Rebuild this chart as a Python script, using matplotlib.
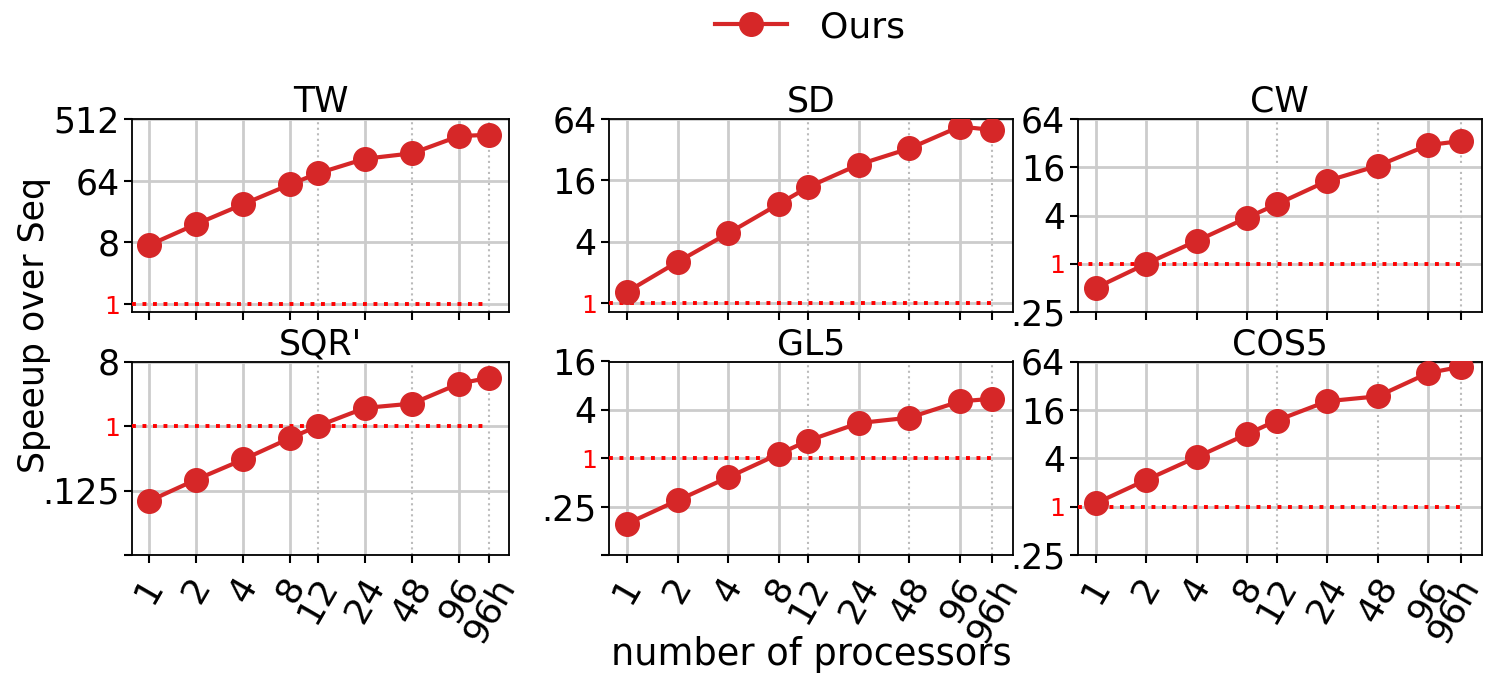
import matplotlib
matplotlib.use("Agg")
import matplotlib.pyplot as plt
import matplotlib.transforms as mtransforms
from matplotlib.ticker import NullLocator

# Processor counts (position on a log2 axis) and their labels
proc_major = [1, 2, 4, 8, 24, 96]
proc_major_labels = ["1", "2", "4", "8", "24", "96"]
proc_minor = [12, 48, 150]
proc_minor_labels = ["12", "48", "96h"]
procs = [1, 2, 4, 8, 12, 24, 48, 96, 150]

# Speedup over sequential, one series per benchmark
tw = [7.3, 14.8, 29, 56.6, 82, 134, 161, 288, 301]
sd = [1.3, 2.55, 4.86, 9.4, 13.8, 22.9, 32.9, 54, 50]
cw = [0.5, 1.0, 1.93, 3.76, 5.53, 10.8, 16.7, 30.2, 34]
sqr = [0.089, 0.178, 0.34, 0.68, 1.0, 1.79, 2.06, 3.92, 4.76]
gl5 = [0.154, 0.30, 0.58, 1.13, 1.66, 2.74, 3.2, 5.1, 5.5]
cos5 = [1.1, 2.15, 4.14, 8.0, 11.8, 20.5, 23.6, 46, 55]

titles = ["TW", "SD", "CW", "SQR'", "GL5", "COS5"]
series = [tw, sd, cw, sqr, gl5, cos5]
ytick_vals = [
    [1, 8, 64, 512],
    [1, 4, 16, 64],
    [0.25, 1, 4, 16, 64],
    [1 / 64, 1 / 8, 1, 8],
    [1 / 16, 0.25, 1, 4, 16],
    [0.25, 1, 4, 16, 64],
]
ytick_labels = [
    ["1", "8", "64", "512"],
    ["1", "4", "16", "64"],
    [".25", "1", "4", "16", "64"],
    ["", ".125", "1", "8"],
    ["", ".25", "1", "4", "16"],
    [".25", "1", "4", "16", "64"],
]
ylims = [(0.764, 512), (0.82, 64), (0.25, 64), (1 / 64, 8), (1 / 16, 16), (0.25, 64)]

W, H = 1489, 675
fig = plt.figure(figsize=(W / 100, H / 100), dpi=100)

# Axes boxes in pixels: (left, right) per column, (top, bottom) per row
col_px = [(132.3, 509.0), (609.3, 1013.3), (1077.7, 1481.7)]
row_px = [(119.0, 312.0), (361.5, 555.0)]

line_color = "#d62728"
grid_color = "#cccccc"
nudge_left = mtransforms.ScaledTranslation(-7 / 100, 0, fig.dpi_scale_trans)

axes = []
for i in range(6):
    r, c = divmod(i, 3)
    x0, x1 = col_px[c]
    y0, y1 = row_px[r]
    ax = fig.add_axes([x0 / W, 1 - y1 / H, (x1 - x0) / W, (y1 - y0) / H])
    axes.append(ax)

    ax.set_xscale("log", base=2)
    ax.set_yscale("log", base=2)
    ax.set_xlim(0.78, 200)
    ax.set_ylim(*ylims[i])

    ax.set_axisbelow(True)
    ax.set_xticks(proc_major)
    ax.set_xticks(proc_minor, minor=True)
    ax.set_yticks(ytick_vals[i])
    ax.yaxis.set_minor_locator(NullLocator())

    ax.grid(True, which="major", axis="both", color=grid_color, lw=2)
    ax.grid(True, which="minor", axis="x", color="#bbbbbb", lw=1.5, ls=":")
    ax.tick_params(which="both", length=6, width=1.5, color="black")
    ax.tick_params(axis="y", pad=3)
    ax.tick_params(axis="x", which="both", pad=6)
    for sp in ax.spines.values():
        sp.set_linewidth(1.3)
        sp.set_color("black")

    if r == 1:
        ax.set_xticklabels(proc_major_labels, rotation=60, fontsize=26)
        ax.set_xticklabels(proc_minor_labels, minor=True, rotation=60, fontsize=26)
        if c == 2:
            last = ax.xaxis.get_minor_ticks()[-1].label1
            last.set_transform(last.get_transform() + nudge_left)
    else:
        ax.set_xticklabels([])
        ax.set_xticklabels([], minor=True)

    ax.set_yticklabels(ytick_labels[i], fontsize=25)
    for lab in ax.get_yticklabels():
        if lab.get_text() == "1":
            lab.set_color("red")
            lab.set_fontsize(18)

    ref = ax.hlines(1, 0.78, procs[-1], colors="red", lw=2.8, zorder=3)
    ref.set_linestyle((0, (1.0, 1.7)))

    ax.plot(procs, series[i], color=line_color, lw=3, marker="o",
            markersize=17, zorder=4, label="Ours" if i == 0 else None)
    ax.set_title(titles[i], fontsize=25, pad=4)

# Shared axis labels
fig.text(811 / W, 1 - 665 / H, "number of processors", fontsize=26.5,
         ha="center", va="baseline")
fig.text(34 / W, 1 - 325 / H, "Speeup over Seq", rotation=90, fontsize=25,
         ha="center", va="center")

handles, labels = axes[0].get_legend_handles_labels()
fig.legend(handles, labels, loc="center", bbox_to_anchor=(810 / W, 1 - 27 / H),
           frameon=False, fontsize=26, handlelength=2.0, handletextpad=0.9,
           markerscale=1.0)

fig.savefig("out.png", dpi=100)
